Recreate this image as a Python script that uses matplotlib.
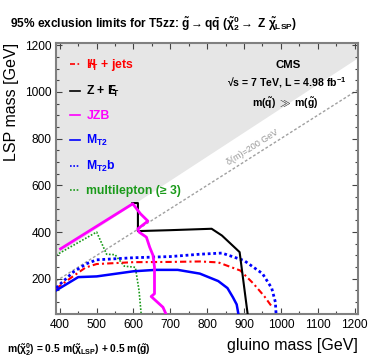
import numpy as np
import matplotlib
matplotlib.use("Agg")
import matplotlib.pyplot as plt

plt.rcParams['font.family'] = ['Liberation Sans', 'DejaVu Sans']
plt.rcParams['mathtext.fontset'] = 'custom'
plt.rcParams['mathtext.rm'] = 'Liberation Sans'
plt.rcParams['mathtext.it'] = 'Liberation Sans:italic'
plt.rcParams['mathtext.bf'] = 'Liberation Sans:bold'
plt.rcParams['mathtext.sf'] = 'Liberation Sans'

# ---- data ----
forbidden_x = [390, 1210]
forbidden_y = [304, 1148]

dm_x = [390, 1210]
dm_y = [190, 1010]

ht_x = [390, 440, 470, 500, 600, 700, 780, 830, 890, 925, 955, 978]
ht_y = [158, 215, 248, 263, 271, 272, 274, 270, 235, 180, 125, 75]

zmet_x = [597, 612, 612, 700, 812, 840, 888, 910]
zmet_y = [524, 524, 404, 408, 414, 385, 314, 46]

jzb_x = [402, 598, 619, 639, 612, 615, 635, 644, 653, 657, 657, 648, 680, 689]
jzb_y = [328, 521, 478, 447, 414, 400, 378, 335, 300, 250, 136, 124, 78, 46]

mt2_x = [390, 450, 500, 600, 660, 720, 780, 830, 855, 870, 880, 885]
mt2_y = [150, 207, 210, 232, 238, 238, 222, 190, 160, 120, 90, 46]

mt2b_x = [390, 436, 472, 500, 600, 700, 780, 840, 900, 950, 975, 985, 987]
mt2b_y = [161, 228, 264, 281, 290, 295, 305, 310, 278, 222, 160, 100, 46]

ml_x = [390, 500, 527, 550, 575, 605, 615, 621]
ml_y = [301, 400, 305, 303, 254, 249, 150, 46]

xlim = (391, 1209)
ylim = (47, 1209)

RED = '#ff0000'
MAG = '#ff00ff'
BLUE = '#0000ff'
GREEN = '#1a9a1a'

fig = plt.figure(figsize=(3.74, 3.59), dpi=100)
ax = fig.add_axes([0.151, 0.124, 0.806, 0.756])
ax.set_xlim(*xlim)
ax.set_ylim(*ylim)

ax.fill_between(forbidden_x, forbidden_y, ylim[1] + 10, color='#e6e6e6', lw=0, zorder=0)
ax.plot(dm_x, dm_y, color='#a0a0a0', lw=1.0, ls=(0, (2, 1.5)), zorder=1)

l_ml, = ax.plot(ml_x, ml_y, color=GREEN, lw=1.2, ls=(0, (1, 1)), zorder=2)
l_ht, = ax.plot(ht_x, ht_y, color=RED, lw=1.5, ls=(0, (3, 1.5, 1, 1.5)), zorder=3)
l_mt2b, = ax.plot(mt2b_x, mt2b_y, color=BLUE, lw=2.0, ls=(0, (1, 1)), zorder=3)
l_mt2, = ax.plot(mt2_x, mt2_y, color=BLUE, lw=1.8, zorder=3)
l_z, = ax.plot(zmet_x, zmet_y, color='black', lw=1.5, zorder=3)
l_jzb, = ax.plot(jzb_x, jzb_y, color=MAG, lw=2.0, zorder=4)

# ticks / frame
ax.set_xticks(np.arange(400, 1201, 100))
ax.set_yticks(np.arange(200, 1201, 200))
ax.set_xticks(np.arange(400, 1201, 50), minor=True)
ax.set_yticks(np.arange(50, 1201, 50), minor=True)
ax.tick_params(which='both', direction='in', top=True, right=True, colors='#444444',
               labelcolor='black', labelsize=8.6)
ax.tick_params(which='major', length=4, width=0.8)
ax.tick_params(which='minor', length=2.2, width=0.8)
for s in ax.spines.values():
    s.set_color('#808080')
    s.set_linewidth(1.5)

ax.set_xlabel('gluino mass [GeV]', loc='right', fontsize=11.5)
ax.set_ylabel('LSP mass [GeV]', loc='top', fontsize=11.5)
ax.xaxis.set_label_coords(1.0, -0.085)
ax.yaxis.set_label_coords(-0.125, 1.0)

# legend
handles = [l_ht, l_z, l_jzb, l_mt2, l_mt2b, l_ml]
labels = [r'$\mathbf{H\!\!\!\!/}_{\mathbf{T}}$ + jets',
          r'Z + $\mathbf{E\!\!\!\!/}_{\mathbf{T}}$',
          'JZB',
          r'$\mathbf{M}_{\mathbf{T2}}$',
          r'$\mathbf{M}_{\mathbf{T2}}\mathbf{b}$',
          'multilepton (≥ 3)']
colors = [RED, 'black', MAG, BLUE, BLUE, GREEN]
leg = ax.legend(handles, labels, loc='upper left', frameon=False,
                prop={'weight': 'bold', 'size': 8.8},
                handlelength=0.8, handletextpad=0.55, labelspacing=0.9,
                borderaxespad=0.2, bbox_to_anchor=(0.02, 0.975))
for t, c in zip(leg.get_texts(), colors):
    t.set_color(c)
for h in leg.legend_handles:
    h.set_linewidth(1.2)

# CMS text
ax.text(0.77, 0.919, 'CMS', transform=ax.transAxes, ha='center', va='center',
        fontsize=8.2, weight='bold')
ax.text(0.765, 0.856, r'√s = 7 TeV, L = 4.98 fb$^{\mathbf{-1}}$', transform=ax.transAxes,
        ha='center', va='center', fontsize=7.6, weight='bold')
ax.text(0.76, 0.779, r'm($\mathbf{\tilde{q}}$) $\gg$ m($\mathbf{\tilde{g}}$)',
        transform=ax.transAxes, ha='center', va='center', fontsize=7.6, weight='bold')

# dm label rotated along the line
p1 = ax.transData.transform((dm_x[0], dm_y[0]))
p2 = ax.transData.transform((dm_x[1], dm_y[1]))
ang = np.degrees(np.arctan2(p2[1] - p1[1], p2[0] - p1[0]))
ax.text(930, 748, 'δ(m)=200 GeV', rotation=ang, rotation_mode='anchor',
        ha='center', va='bottom', fontsize=6.5, color='#999999')

fig.text(0.027, 0.935,
         r'95% exclusion limits for T5zz: $\mathbf{\tilde{g}}\rightarrow\mathbf{q\bar{q}}$ '
         r'($\mathbf{\tilde{\chi}^0_2}\rightarrow$ $\mathbf{Z}$ $\mathbf{\tilde{\chi}_{LSP}}$)',
         ha='left', va='center', fontsize=8.6, weight='bold')
fig.text(0.018, 0.025,
         r'm($\mathbf{\tilde{\chi}^0_2}$) = 0.5 m($\mathbf{\tilde{\chi}_{LSP}}$) + 0.5 m($\mathbf{\tilde{g}}$)',
         ha='left', va='center', fontsize=7.4, weight='bold')

fig.savefig('out.png', dpi=100)
